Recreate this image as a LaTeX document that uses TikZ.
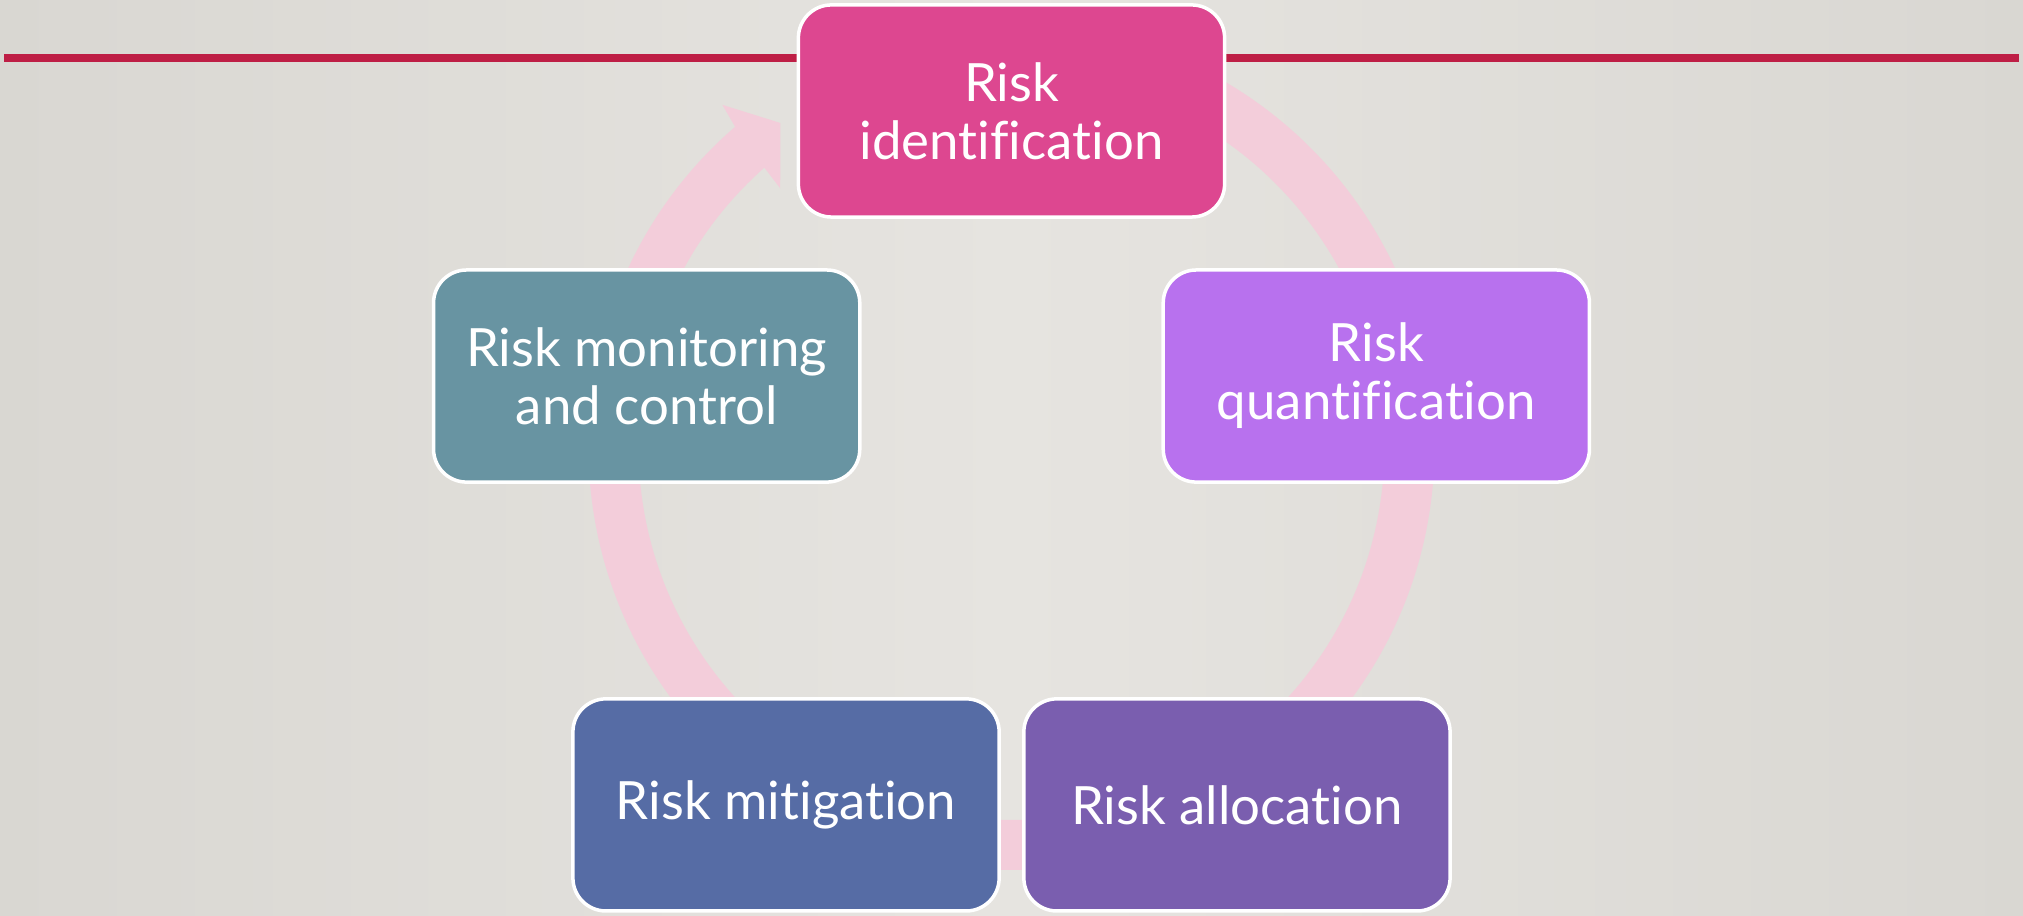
\documentclass[tikz,border=0pt]{standalone}
\usepackage{fontspec}
\setmainfont{Lato}[Ligatures=NoCommon]
\usetikzlibrary{positioning}

\definecolor{bgmid}{HTML}{E6E4E0}
\definecolor{bgside}{HTML}{D9D7D2}
\definecolor{rulered}{HTML}{BE1E45}
\definecolor{ringpink}{HTML}{F3CDDA}
\definecolor{identcol}{HTML}{DD4790}
\definecolor{quantcol}{HTML}{B871EE}
\definecolor{alloccol}{HTML}{7A5EAF}
\definecolor{mitigcol}{HTML}{566CA5}
\definecolor{monitcol}{HTML}{6894A2}

\begin{document}
\begin{tikzpicture}[x=0.01cm, y=0.01cm,
    stage/.style={draw=white, line width=0.035cm, rounded corners=0.33cm,
      minimum width=4.26cm, minimum height=2.12cm, inner sep=0pt,
      align=center, text=white, font=\fontsize{15}{16.5}\selectfont}]

        % background
        \shade[left color=bgside, right color=bgside, middle color=bgmid] (0,0) rectangle (2023,916);
        \useasboundingbox (0,0) rectangle (2023,916);

        % top rule
        \coordinate (ruleL) at (4,858);
        \coordinate (ruleR) at (2019,858);
        \draw[rulered, line width=0.08cm] (ruleL) -- (ruleR);

        % cycle arrow
        \coordinate (ring) at (1011.5,469);
        \fill[ringpink, shift={(ring)}] (90:423) arc[start angle=90, end angle=-229.2, radius=423]
          -- (-229.8:448) -- (-234.5:398) -- (-228.2:347) -- (-228.5:373)
          arc[start angle=-228.5, end angle=90, radius=373] -- cycle;

        % stages
        \coordinate (hub) at (1011.5,421.4);
        \foreach \ang/\nm/\col/\txt in {90/ident/identcol/{Risk\\identification},
            18/quant/quantcol/{Risk\\quantification}, -54/alloc/alloccol/{Risk allocation},
            -126/mitig/mitigcol/{Risk mitigation}, 162/monit/monitcol/{Risk monitoring\\and control}} {
          \node[stage, fill=\col] (\nm) at ([shift={(\ang:383.6)}]hub) {\txt};
        }
      \end{tikzpicture}
\end{document}
